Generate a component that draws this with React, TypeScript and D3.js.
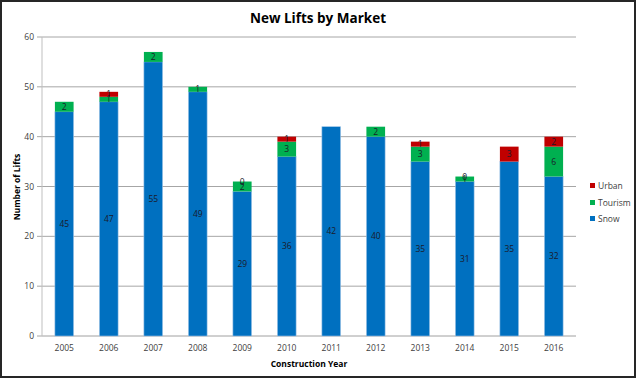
import React from "react";
import * as d3 from "d3";

const years = ["2005","2006","2007","2008","2009","2010","2011","2012","2013","2014","2015","2016"];
const snow: (number|null)[] = [45,47,55,49,29,36,42,40,35,31,35,32];
const tourism: (number|null)[] = [2,1,2,1,2,3,null,2,3,1,null,6];
const urban: (number|null)[] = [null,1,null,null,0,1,null,null,1,0,3,2];
const yTicks = [0,10,20,30,40,50,60];
const seriesNames = ["Snow","Tourism","Urban"];
const seriesColors = ["#0070C0","#00B050","#C00000"];

const W = 636, H = 378;
const left = 42, right = 576, top = 37, bottom = 336;
const font = "'Open Sans', 'Liberation Sans', sans-serif";

export default function App() {
  const x = d3.scaleBand<string>().domain(years).range([left, right]).paddingInner(0.58).paddingOuter(0.29);
  const y = d3.scaleLinear().domain([0, 60]).range([bottom, top]);
  const series = [snow, tourism, urban];
  const segs: any[] = [];
  years.forEach((yr, i) => {
    let acc = 0;
    series.forEach((s, k) => {
      const v = s[i];
      if (v === null) return;
      segs.push({ yr, k, v, y0: acc, y1: acc + v });
      acc += v;
    });
  });
  const legendY = [186, 203, 219];
  return (
    <svg width={W} height={H} style={{ position: "absolute", left: 0, top: 0, display: "block" }} fontFamily={font}>
      <rect x={0} y={0} width={W} height={H} fill="#fff" />
      <rect x={1} y={1} width={W - 2} height={H - 2} fill="none" stroke="#262626" strokeWidth={2} />
      <text x={318} y={23} textAnchor="middle" fontSize={13.5} fontWeight="bold" fill="#000">New Lifts by Market</text>
      {yTicks.map(t => (
        <g key={t}>
          <line x1={left} x2={right} y1={y(t)} y2={y(t)} stroke={t === 0 ? "#A0A0A0" : "#A6A6A6"} strokeWidth={1} />
          <line x1={left - 5} x2={left} y1={y(t)} y2={y(t)} stroke="#A6A6A6" />
          <text x={left - 8} y={y(t) + 3} textAnchor="end" fontSize={8.5} fill="#404040">{t}</text>
        </g>
      ))}
      <line x1={left} x2={left} y1={top} y2={bottom} stroke="#BFBFBF" strokeWidth={1} />
      {segs.map((s, i) => (
        <rect key={i} x={x(s.yr)!} width={x.bandwidth()} y={y(s.y1)} height={y(s.y0) - y(s.y1)}
          fill={seriesColors[s.k]} stroke="#9DC3E6" strokeWidth={s.k === 0 ? 0.6 : 0} />
      ))}
      {segs.map((s, i) => (
        <text key={"l" + i} x={x(s.yr)! + x.bandwidth() / 2} y={y((s.y0 + s.y1) / 2) + 3}
          textAnchor="middle" fontSize={8.5} fill="#1a1a2a">{s.v}</text>
      ))}
      {years.map(yr => (
        <text key={yr} x={x(yr)! + x.bandwidth() / 2} y={351} textAnchor="middle" fontSize={8.5} fill="#404040">{yr}</text>
      ))}
      <text x={309} y={367} textAnchor="middle" fontSize={8.5} fontWeight="bold" fill="#000">Construction Year</text>
      <text transform={`translate(20,187) rotate(-90)`} textAnchor="middle" fontSize={8.5} fontWeight="bold" fill="#000">Number of Lifts</text>
      {[2, 1, 0].map((k, j) => (
        <g key={k}>
          <rect x={590} y={legendY[j] - 3} width={5} height={5} fill={seriesColors[k]} />
          <text x={598} y={legendY[j] + 3} fontSize={8.5} fill="#404040">{seriesNames[k]}</text>
        </g>
      ))}
    </svg>
  );
}
